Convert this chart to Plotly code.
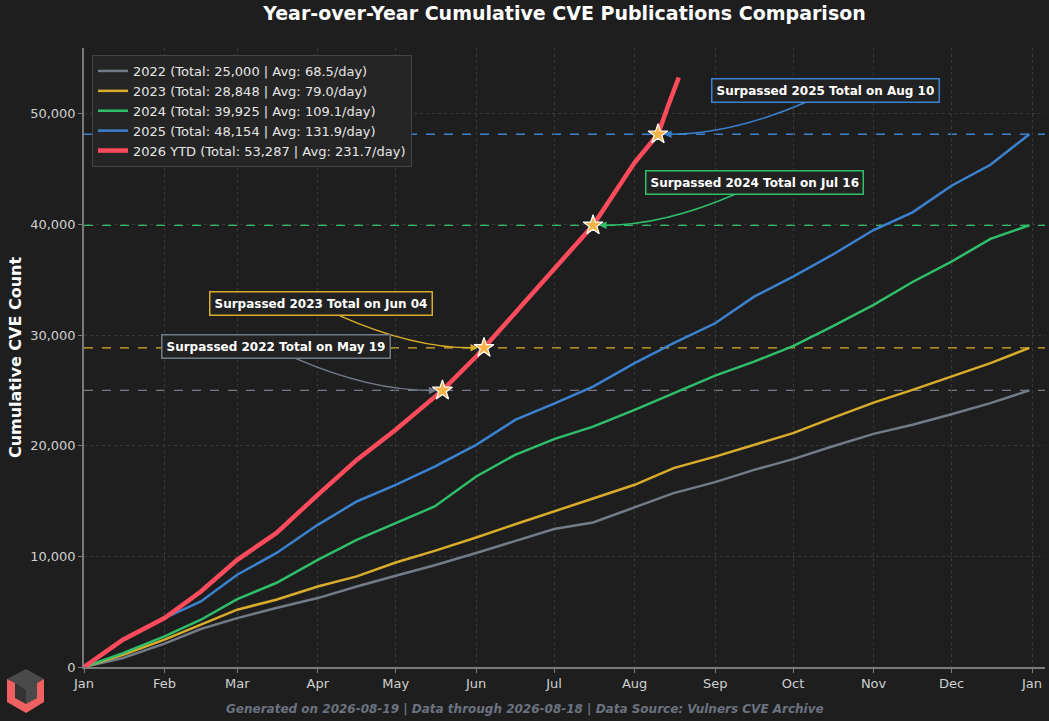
import plotly.graph_objects as go

# ---- data ----
month_days = [0, 31, 59, 90, 120, 151, 181, 212, 243, 273, 304, 334, 365]
month_labels = ["Jan", "Feb", "Mar", "Apr", "May", "Jun", "Jul", "Aug", "Sep", "Oct", "Nov", "Dec", "Jan"]

# sample days (day of year, Jan 1 = 0) for the full prior years
past_days = [0, 15, 31, 45, 59, 74, 90, 105, 120, 135, 151, 166, 181, 196, 212,
             227, 243, 258, 273, 288, 304, 319, 334, 349, 364]

cve_2022 = [0, 810, 2110, 3430, 4420, 5330, 6230, 7280, 8250, 9200, 10300, 11400, 12470,
            13060, 14420, 15720, 16710, 17820, 18790, 19930, 21070, 21890, 22850, 23850, 25000]
cve_2023 = [0, 1110, 2470, 3820, 5180, 6080, 7280, 8190, 9450, 10500, 11700, 12900, 14100,
            15230, 16470, 17980, 19020, 20080, 21140, 22490, 23900, 25050, 26250, 27460, 28848]
cve_2024 = [0, 1260, 2770, 4270, 6140, 7590, 9690, 11500, 13000, 14510, 17220, 19180, 20600,
            21730, 23240, 24750, 26340, 27600, 29000, 30770, 32730, 34800, 36640, 38700, 39925]
cve_2025 = [0, 2530, 4420, 5930, 8340, 10290, 12850, 14960, 16460, 18120, 20080, 22340, 23800,
            25350, 27460, 29270, 31070, 33480, 35280, 37240, 39500, 41100, 43500, 45400, 48154]

ytd_days = [0, 15, 31, 45, 59, 74, 90, 105, 120, 138, 151, 154, 166, 181, 196, 212, 221, 225, 229]
cve_2026 = [0, 2470, 4420, 6830, 9690, 12100, 15560, 18720, 21440, 25000, 28060, 28848,
            32000, 36040, 39925, 45600, 48154, 50800, 53287]

year_names = ["2022", "2023", "2024", "2025", "2026 YTD"]
year_lengths = [365, 365, 366, 365, 230]
year_colors = ["#737b88", "#d9ad2b", "#2fbf6a", "#3b82d0", "#ff4b5c"]

cross_years = ["2022", "2023", "2024", "2025"]
cross_days = [138, 154, 196, 221]
cross_labels = ["May 19", "Jun 04", "Jul 16", "Aug 10"]

# ---- layout constants ----
W, H = 1049, 721
ML, MR, MT, MB = 84, 4, 48, 54
X_RANGE = [0, 370]
Y_RANGE = [0, 55951]
BG = "#1e1e1e"
FONT = "DejaVu Sans"

plot_w = W - ML - MR
plot_h = H - MT - MB
days_per_px = (X_RANGE[1] - X_RANGE[0]) / plot_w
val_per_px = (Y_RANGE[1] - Y_RANGE[0]) / plot_h

fig = go.Figure()

series = [(past_days, cve_2022), (past_days, cve_2023), (past_days, cve_2024),
          (past_days, cve_2025), (ytd_days, cve_2026)]

for name, n_days, color, (xs, ys) in zip(year_names, year_lengths, year_colors, series):
    total = ys[-1]
    label = f"{name} (Total: {total:,} | Avg: {total / n_days:.1f}/day)"
    fig.add_trace(go.Scatter(
        x=xs, y=ys, mode="lines", name=label,
        line=dict(color=color, width=4.5 if name.startswith("2026") else 2.5),
    ))

# dashed reference lines at each prior year total (above the grid, under the lines)
for (xs, ys), color in zip(series[:4], year_colors[:4]):
    fig.add_shape(type="line", xref="paper", x0=0, x1=1, yref="y", y0=ys[-1], y1=ys[-1],
                  line=dict(color=color, width=1.4, dash="dash"), opacity=1, layer="between")

# stars where 2026 passed each prior total
totals = [s[1][-1] for s in series[:4]]
fig.add_trace(go.Scatter(
    x=cross_days, y=totals, mode="markers", showlegend=False,
    marker=dict(symbol="star", size=15, color="#f6b347", line=dict(color="white", width=1.2)),
))

# label boxes + curved arrows (offsets in pixels from the star)
box_offsets = [(-166, -44), (-163, -44), (161, -43), (167, -44)]
for yr, d, tot, lab, color, (ox, oy) in zip(cross_years, cross_days, totals, cross_labels,
                                            year_colors[:4], box_offsets):
    side = 1 if ox > 0 else -1
    bx = d + ox * days_per_px
    by = tot - oy * val_per_px
    fig.add_annotation(
        x=bx, y=by, text=f"<b>Surpassed {yr} Total on {lab}</b>", showarrow=False,
        font=dict(family=FONT, size=12, color="white"),
        bgcolor="#222222", bordercolor=color, borderwidth=1.5, borderpad=4,
        xanchor="center", yanchor="middle",
    )
    # curve from box bottom to near the star
    sx = bx - side * 19 * days_per_px
    sy = by - 12 * val_per_px
    ex = d + side * 12 * days_per_px
    ey = tot
    cx = ex + 0.45 * (sx - ex)
    cy = ey
    fig.add_shape(type="path", xref="x", yref="y",
                  path=f"M {sx},{sy} Q {cx},{cy} {ex},{ey}",
                  line=dict(color=color, width=1.5))
    fig.add_annotation(
        x=d, y=tot, ax=side * 14, ay=0, text="", showarrow=True,
        arrowhead=2, arrowsize=1, arrowwidth=1.5, arrowcolor=color, standoff=6,
    )


# small logo in the lower left corner (pixel coords -> paper coords)
def px_path(points):
    pts = [f"{(px - ML) / plot_w},{(H - MB - py) / plot_h}" for px, py in points]
    return "M " + " L ".join(pts) + " Z"


logo_gray = [(26, 669), (44, 679), (37, 683), (37, 698), (26, 704), (15, 698), (15, 683), (7, 679)]
logo_dark = [(26, 690), (26, 704), (15, 698), (15, 683)]
logo_red = [(7, 679), (15, 683), (15, 698), (26, 704), (37, 698), (37, 683), (44, 679),
            (44, 702), (26, 713), (7, 702)]
fig.add_shape(type="path", xref="paper", yref="paper", path=px_path(logo_gray),
              fillcolor="#4a4a4a", line=dict(width=0))
fig.add_shape(type="path", xref="paper", yref="paper", path=px_path(logo_dark),
              fillcolor="#333333", line=dict(width=0))
fig.add_shape(type="path", xref="paper", yref="paper", path=px_path(logo_red),
              fillcolor="#ef6060", line=dict(width=0))

# footer
fig.add_annotation(
    xref="paper", yref="paper", x=(525 - ML) / plot_w, y=-42 / plot_h,
    text="Generated on 2026-08-19 | Data through 2026-08-18 | Data Source: Vulners CVE Archive",
    showarrow=False, xanchor="center", yanchor="middle",
    font=dict(family=FONT, size=12, color="#6b7280", weight="bold", style="italic"),
)

fig.update_layout(
    width=W, height=H,
    margin=dict(l=ML, r=MR, t=MT, b=MB),
    paper_bgcolor=BG, plot_bgcolor=BG,
    font=dict(family=FONT, color="#d0d0d0", size=13),
    title=dict(text="<b>Year-over-Year Cumulative CVE Publications Comparison</b>",
               x=0.5, xref="paper", xanchor="center", y=1 - 13 / H, yref="container",
               yanchor="middle", font=dict(family=FONT, size=19, color="white")),
    legend=dict(x=8 / plot_w, y=1 - 7 / plot_h, xanchor="left", yanchor="top",
                bgcolor="#252525", bordercolor="#444444", borderwidth=1,
                font=dict(family=FONT, size=13, color="#e6e6e6"), itemwidth=30),
    xaxis=dict(range=X_RANGE, tickvals=month_days, ticktext=month_labels,
               showgrid=True, gridcolor="#383838", griddash="dot", gridwidth=1,
               showline=True, linecolor="#7a7a7a", linewidth=1.5,
               ticks="outside", ticklen=4, tickcolor="#7a7a7a", zeroline=False,
               tickfont=dict(size=13, color="#d0d0d0")),
    yaxis=dict(range=Y_RANGE, tickformat=",", dtick=10000,
               showgrid=True, gridcolor="#383838", griddash="dot", gridwidth=1,
               showline=True, linecolor="#7a7a7a", linewidth=1.5,
               ticks="outside", ticklen=4, tickcolor="#7a7a7a", zeroline=False,
               tickfont=dict(size=13, color="#d0d0d0"),
               title=dict(text="<b>Cumulative CVE Count</b>", standoff=5,
                          font=dict(family=FONT, size=16, color="white"))),
)

# drop the page's default body margin so the figure fills the window
fig.write_html("out.html", config={"displayModeBar": False},
               post_script="document.body.style.margin='0';document.body.style.background='#1e1e1e';")
